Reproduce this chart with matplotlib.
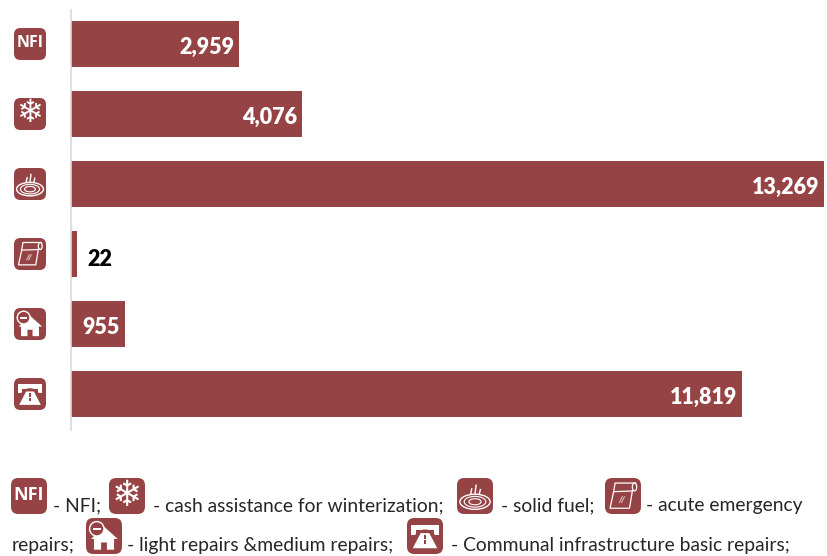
import matplotlib.pyplot as plt
from matplotlib.patches import FancyBboxPatch, Ellipse, Polygon, Rectangle, Circle

plt.rcParams['font.family'] = ['Lato', 'DejaVu Sans']

categories = ['NFI', 'winter', 'fuel', 'emergency', 'light', 'communal']
# bar lengths; the 22 bar is drawn wider than its label says
values = [2959, 4076, 13269, 105, 955, 11819]
labels = ['2,959', '4,076', '13,269', '22', '955', '11,819']
legend_line1 = ['- NFI;', '- cash assistance for winterization;', '- solid fuel;', '- acute emergency']
legend_line2 = ['repairs;', '- light repairs &medium repairs;', '- Communal infrastructure basic repairs;']

RED = '#964345'
W, H = 828, 556

fig = plt.figure(figsize=(W / 100, H / 100), dpi=100)

# bars, axes box is set so 13269 ends at x=824
ax = fig.add_axes([71 / W, 1 - 430 / H, 753 / W, 420 / H])
ypos = list(range(len(values)))
ax.barh(ypos, values, height=46 / 70, color=RED)
ax.set_xlim(0, 13269)
ax.set_ylim(5.0 + 36 / 70, -34 / 70)
ax.set_xticks([])
ax.set_yticks([])
for s in ['top', 'right', 'bottom']:
    ax.spines[s].set_visible(False)
ax.spines['left'].set_color('#d9d9d9')
ax.spines['left'].set_linewidth(1.2)

for y, v, t in zip(ypos, values, labels):
    if v < 500:
        ax.annotate(t, (v, y), xytext=(10, -5), textcoords='offset pixels', va='center', ha='left',
                    fontsize=15.5, fontweight='heavy', color='black')
    else:
        ax.annotate(t, (v, y), xytext=(-5, -3), textcoords='offset pixels', va='center', ha='right',
                    fontsize=15.5, fontweight='heavy', color='white')

# overlay in pixel coordinates for the icons and legend text
ov = fig.add_axes([0, 0, 1, 1])
ov.set_xlim(0, W)
ov.set_ylim(H, 0)
ov.axis('off')
ov.patch.set_alpha(0)


def base(x, y, s):
    ov.add_patch(FancyBboxPatch((x + 0.12 * s, y + 0.12 * s), 0.76 * s, 0.76 * s,
                                boxstyle='round,pad=%f,rounding_size=%f' % (0.12 * s, 0.2 * s),
                                fc=RED, ec='none'))


def icon_nfi(x, y, s):
    base(x, y, s)
    ov.text(x + s / 2, y + s * 0.48, 'NFI', color='white', fontweight='bold', ha='center', va='center',
            fontsize=s * 0.36, family=['Open Sans', 'DejaVu Sans'])


def icon_snow(x, y, s):
    base(x, y, s)
    ov.text(x + s / 2, y + s * 0.5, '\u2744', color='white', ha='center', va='center',
            fontsize=s * 0.72, family='DejaVu Sans')


def icon_fuel(x, y, s):
    base(x, y, s)
    cx, cy = x + s / 2, y + s * 0.66
    for k, lw in [(0.42, 1.0), (0.3, 0.8), (0.17, 0.8)]:
        ov.add_patch(Ellipse((cx, cy), s * k * 2, s * k, fc='none', ec='white', lw=lw))
    for dx, top in [(-0.12, 0.3), (0.0, 0.2), (0.12, 0.32)]:
        ov.plot([cx + dx * s, cx + (dx + 0.03) * s], [y + s * 0.44, y + s * top], color='white', lw=1)


def icon_roll(x, y, s):
    base(x, y, s)
    pts = [(0.28, 0.14), (0.86, 0.14), (0.76, 0.36), (0.68, 0.84), (0.14, 0.84), (0.24, 0.38)]
    ov.add_patch(Polygon([(x + a * s, y + b * s) for a, b in pts], fc='none', ec='white', lw=0.9))
    ov.add_patch(Ellipse((x + 0.82 * s, y + 0.25 * s), 0.12 * s, 0.22 * s, fc=RED, ec='white', lw=0.9))
    ov.plot([x + 0.24 * s, x + 0.76 * s], [y + 0.38 * s, y + 0.36 * s], color='white', lw=0.9)
    ov.plot([x + 0.4 * s, x + 0.48 * s], [y + 0.68 * s, y + 0.52 * s], color='#d8b8b8', lw=0.8)
    ov.plot([x + 0.46 * s, x + 0.54 * s], [y + 0.68 * s, y + 0.52 * s], color='#d8b8b8', lw=0.8)


def icon_house(x, y, s):
    base(x, y, s)
    roof = [(0.14, 0.58), (0.5, 0.24), (0.88, 0.58), (0.78, 0.58), (0.78, 0.88), (0.58, 0.88), (0.58, 0.68),
            (0.42, 0.68), (0.42, 0.88), (0.22, 0.88), (0.22, 0.58)]
    ov.add_patch(Polygon([(x + a * s, y + b * s) for a, b in roof], fc='white', ec='none'))
    ov.add_patch(Circle((x + 0.3 * s, y + 0.3 * s), 0.2 * s, fc=RED, ec='white', lw=1))
    ov.add_patch(Rectangle((x + 0.19 * s, y + 0.27 * s), 0.22 * s, 0.06 * s, fc='white', ec='none'))


def icon_road(x, y, s):
    base(x, y, s)
    ov.add_patch(Rectangle((x + 0.12 * s, y + 0.2 * s), 0.76 * s, 0.14 * s, fc='white', ec='none'))
    ov.add_patch(Rectangle((x + 0.12 * s, y + 0.2 * s), 0.14 * s, 0.28 * s, fc='white', ec='none'))
    ov.add_patch(Rectangle((x + 0.74 * s, y + 0.2 * s), 0.14 * s, 0.28 * s, fc='white', ec='none'))
    ov.add_patch(Ellipse((x + 0.5 * s, y + 0.52 * s), 0.56 * s, 0.4 * s, fc=RED, ec='none'))
    road = [(0.38, 0.42), (0.62, 0.42), (0.84, 0.84), (0.16, 0.84)]
    ov.add_patch(Polygon([(x + a * s, y + b * s) for a, b in road], fc='white', ec='none'))
    for top in [0.48, 0.62]:
        ov.add_patch(Rectangle((x + 0.46 * s, y + top * s), 0.08 * s, 0.1 * s, fc=RED, ec='none'))


icons = [icon_nfi, icon_snow, icon_fuel, icon_roll, icon_house, icon_road]

# row icons next to the bars
for k, f in enumerate(icons):
    f(14, 28 + 70 * k, 32)

# legend icons
icon_nfi(11, 478, 36)
icon_snow(109, 478, 36)
icon_fuel(457, 478, 36)
icon_roll(605, 478, 36)
icon_house(86, 518, 36)
icon_road(407, 518, 36)

for x, t in zip([53, 153, 501, 646], legend_line1):
    ov.text(x, 511, t, fontsize=13.85, color='#262626', ha='left', va='baseline')
for x, t in zip([12, 127, 451], legend_line2):
    ov.text(x, 551, t, fontsize=13.85, color='#262626', ha='left', va='baseline')

plt.savefig('out.png', dpi=100)
